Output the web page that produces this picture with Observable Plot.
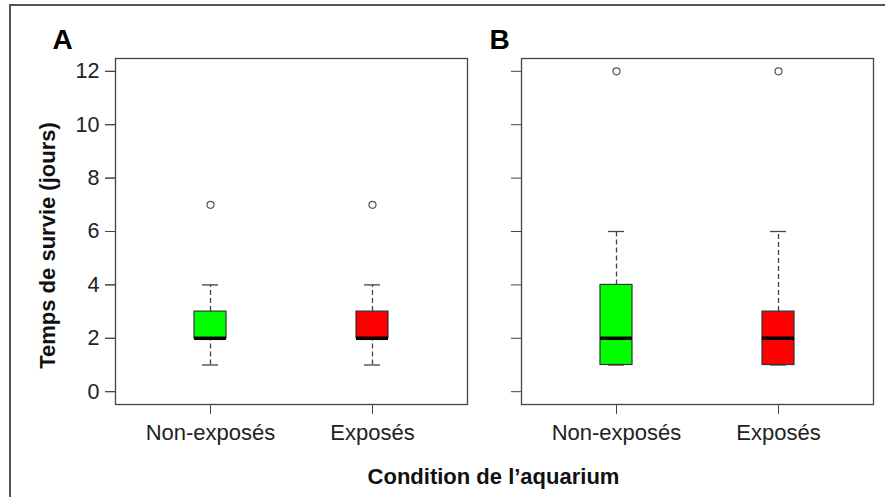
<!DOCTYPE html>
<html>
<head>
<meta charset="utf-8">
<script src="https://cdn.jsdelivr.net/npm/d3@7"></script>
<script src="https://cdn.jsdelivr.net/npm/@observablehq/plot@0.6"></script>
<style>
  html, body { margin: 0; padding: 0; background: #fff; overflow: hidden; }
  #wrap { position: relative; width: 885px; height: 497px; }
  #border { position: absolute; left: 9px; top: 4px; right: -5px; bottom: -5px;
            border-top: 2px solid #555; border-left: 2px solid #555; pointer-events: none; }
</style>
</head>
<body>
<div id="wrap"><div id="border"></div></div>
<script>
// ---- data ----
const panels = ["A", "B"];
const conditions = ["Non-exposés", "Exposés"];
const fills = ["#00ff00", "#ff0000"];
// order: A/Non-exposés, A/Exposés, B/Non-exposés, B/Exposés
const whiskerLow  = [1, 1, 1, 1];
const quart1      = [2, 2, 1, 1];
const medians     = [2, 2, 2, 2];
const quart3      = [3, 3, 4, 3];
const whiskerHigh = [4, 4, 6, 6];
const outliers    = [7, 7, 12, 12];
const yTicks = [0, 2, 4, 6, 8, 10, 12];
const yTitle = "Temps de survie (jours)";
const xTitle = "Condition de l’aquarium";

const rows = [];
panels.forEach((p, pi) => conditions.forEach((c, ci) => {
  const i = pi * conditions.length + ci;
  rows.push({panel: p, condition: c, lo: whiskerLow[i], q1: quart1[i], med: medians[i],
             q3: quart3[i], hi: whiskerHigh[i], out: outliers[i]});
}));

const chart = Plot.plot({
  width: 885,
  height: 497,
  marginLeft: 115,
  marginRight: 11,
  marginTop: 58,
  marginBottom: 93,
  style: {fontFamily: "'Liberation Sans', Arial, sans-serif", color: "#222", background: "transparent"},
  fx: {domain: panels, paddingInner: 0.133, paddingOuter: 0, axis: null, label: null},
  x: {domain: conditions, paddingInner: 0.8, paddingOuter: 0.48, axis: null, label: null},
  y: {domain: [-0.48, 12.48], axis: null, label: null},
  color: {domain: conditions, range: fills},
  marks: [
    Plot.frame({stroke: "#444", strokeWidth: 1.3}),
    Plot.axisY(yTicks, {tickSize: 10, tickPadding: 6, fontSize: 21.5, label: null, stroke: "#444"}),
    Plot.axisY(yTicks, {tickSize: 10, tickFormat: () => "", label: null, stroke: "#444", facetAnchor: null}),
    Plot.axisX({tickSize: 10, tickPadding: 10, fontSize: 22, label: null, stroke: "#444"}),
    // whiskers
    Plot.ruleX(rows, {fx: "panel", x: "condition", y1: "q3", y2: "hi", stroke: "#444", strokeWidth: 1.3, strokeDasharray: "5,3"}),
    Plot.ruleX(rows, {fx: "panel", x: "condition", y1: "lo", y2: "q1", stroke: "#444", strokeWidth: 1.3, strokeDasharray: "5,3"}),
    Plot.tickY(rows, {fx: "panel", x: "condition", y: "hi", stroke: "#444", strokeWidth: 1.3, insetLeft: 8, insetRight: 8}),
    Plot.tickY(rows, {fx: "panel", x: "condition", y: "lo", stroke: "#444", strokeWidth: 1.3, insetLeft: 8, insetRight: 8}),
    // boxes
    Plot.barY(rows, {fx: "panel", x: "condition", y1: "q1", y2: "q3", fill: "condition", stroke: "#333", strokeWidth: 1.2}),
    Plot.tickY(rows, {fx: "panel", x: "condition", y: "med", stroke: "#000", strokeWidth: 3.5}),
    // outliers
    Plot.dot(rows, {fx: "panel", x: "condition", y: "out", r: 3.5, stroke: "#555", fill: "white", strokeWidth: 1.2}),
    // panel letters
    Plot.text(["A"], {fx: ["A"], text: d => d, frameAnchor: "top-left", textAnchor: "start", lineAnchor: "bottom",
                      dx: -63, dy: -10, fontSize: 28, fontWeight: "bold", fill: "#000"}),
    Plot.text(["B"], {fx: ["B"], text: d => d, frameAnchor: "top-left", textAnchor: "start", lineAnchor: "bottom",
                      dx: -32, dy: -10, fontSize: 28, fontWeight: "bold", fill: "#000"}),
    // axis titles
    Plot.text([yTitle], {fx: ["A"], text: d => d, frameAnchor: "left", rotate: -90, textAnchor: "middle",
                         lineAnchor: "middle", dx: -68, dy: 14, fontSize: 22, fontWeight: "bold", fill: "#111"}),
    Plot.text([xTitle], {fx: ["A"], text: d => d, frameAnchor: "bottom-right", textAnchor: "middle",
                         lineAnchor: "bottom", dx: 26, dy: 79, fontSize: 22, fontWeight: "bold", fill: "#111"})
  ]
});
chart.style.position = "absolute";
chart.style.left = "0px";
chart.style.top = "0px";
document.getElementById("wrap").appendChild(chart);
</script>
</body>
</html>
